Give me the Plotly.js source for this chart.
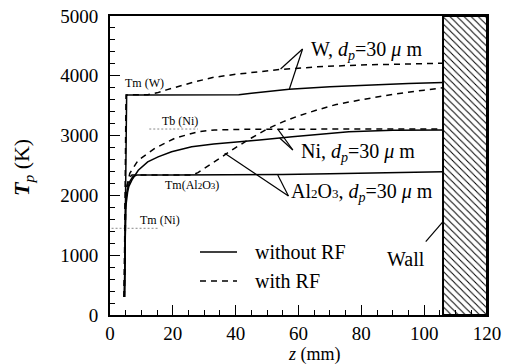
<!DOCTYPE html>
<html><head><meta charset="utf-8">
<script src="https://cdn.plot.ly/plotly-3.0.1.min.js"></script>
<style>html,body{margin:0;padding:0;background:#fff}</style>
</head><body><div id="chart" style="width:506px;height:364px"></div>
<script>
// ---- data (z in mm, Tp in K) ----
const zW_noRF  = [4.6, 4.9, 5.3, 10, 20, 30, 41, 45, 57, 70, 82, 95, 106];
const tW_noRF  = [300, 2000, 3680, 3680, 3680, 3680, 3685, 3710, 3775, 3815, 3846, 3870, 3890];
const zW_RF    = [4.5, 4.8, 5.1, 12, 15, 18, 23, 27, 33, 40, 54, 66, 79, 92, 106];
const tW_RF    = [300, 2000, 3680, 3685, 3715, 3765, 3845, 3900, 3975, 4025, 4105, 4150, 4180, 4198, 4210];
const zNi_noRF = [4.6, 5.0, 5.6, 6.0, 7.0, 8.0, 9.0, 12, 15.3, 19.6, 26, 33, 38, 47.6, 58, 76, 90, 106];
const tNi_noRF = [300, 1800, 2050, 2150, 2260, 2340, 2420, 2560, 2645, 2730, 2815, 2860, 2880, 2925, 2980, 3065, 3088, 3095];
const zNi_RF   = [4.6, 5.0, 5.4, 6.3, 9, 14.3, 20.6, 28, 33.3, 42, 60, 80, 106];
const tNi_RF   = [300, 1900, 2150, 2370, 2590, 2787, 2955, 3065, 3094, 3105, 3108, 3110, 3110];
const zAl_noRF = [4.6, 5.0, 5.5, 6.3, 7.2, 8.5, 20, 40, 55, 70, 85, 106];
const tAl_noRF = [300, 1900, 2100, 2230, 2310, 2340, 2340, 2342, 2350, 2362, 2376, 2395];
const zAl_RF   = [4.5, 4.9, 5.4, 6.2, 7, 15, 26, 28, 30, 35, 40, 45, 50, 55, 60, 66, 72, 80, 90, 100, 106];
const tAl_RF   = [300, 1900, 2150, 2300, 2340, 2340, 2340, 2380, 2450, 2620, 2800, 2960, 3110, 3230, 3330, 3430, 3520, 3600, 3690, 3760, 3800];
// reference temperatures (dotted)
const zTmNi = [0.5, 15.3]; const tTmNi = [1450, 1450];
const zTbNi = [12.5, 28];  const tTbNi = [3110, 3110];
// wall
const wallStart = 106, wallEnd = 120, wallTop = 5000;
// tick labels
const xTicks = [0, 20, 40, 60, 80, 100, 120];
const yTicks = [0, 1000, 2000, 3000, 4000, 5000];

const FONT = 'Times New Roman';
const solid = {color: 'black', width: 1.5};
const dashed = {color: 'black', width: 1.5, dash: '6px,5px'};
const dotted = {color: '#888', width: 1, dash: '2px,2px'};

const traces = [
  {type: 'bar', x: [(wallStart + wallEnd) / 2], y: [wallTop], width: [wallEnd - wallStart],
   marker: {color: 'white', line: {color: 'black', width: 2},
            pattern: {shape: '\\', size: 5, solidity: 0.2, fgcolor: 'black', bgcolor: 'white'}},
   hoverinfo: 'skip'},
  {x: zTmNi, y: tTmNi, mode: 'lines', line: dotted},
  {x: zTbNi, y: tTbNi, mode: 'lines', line: dotted},
  {x: zW_noRF, y: tW_noRF, mode: 'lines', line: solid},
  {x: zW_RF, y: tW_RF, mode: 'lines', line: dashed},
  {x: zNi_noRF, y: tNi_noRF, mode: 'lines', line: solid},
  {x: zNi_RF, y: tNi_RF, mode: 'lines', line: dashed},
  {x: zAl_noRF, y: tAl_noRF, mode: 'lines', line: solid},
  {x: zAl_RF, y: tAl_RF, mode: 'lines', line: dashed}
];
traces.forEach(t => { t.showlegend = false; });

function leader(x0, y0, x1, y1) {
  return {type: 'line', xref: 'x', yref: 'y', x0, y0, x1, y1, line: {color: 'black', width: 1.2}};
}
const shapes = [
  leader(61.3, 4448, 54.3, 4114), leader(61.3, 4448, 57.1, 3779),
  leader(58.2, 2759, 53.4, 3108), leader(58.2, 2759, 54.0, 2960),
  leader(56.8, 1990, 36.5, 2704), leader(56.8, 1990, 53.4, 2341),
  leader(100.5, 1226, 106, 1560),
  // legend keys
  {type: 'line', xref: 'paper', yref: 'paper', x0: (200-110)/377, x1: (237-110)/377, y0: (315-252)/299, y1: (315-252)/299, line: {color: 'black', width: 1.5}},
  {type: 'line', xref: 'paper', yref: 'paper', x0: (200-110)/377, x1: (237-110)/377, y0: (315-281)/299, y1: (315-281)/299, line: {color: 'black', width: 1.5, dash: '6px,5px'}}
];

const big = {family: FONT, size: 20, color: 'black'};
const small = {family: FONT, size: 12, color: 'black'};
function ann(text, x, y, font, xanchor, extra) {
  return Object.assign({text, x, y, xref: 'x', yref: 'y', showarrow: false, font, xanchor: xanchor || 'center', yanchor: 'middle'}, extra || {});
}
const sub = s => '<span style="font-size:13px">' + s + '</span>';
const annotations = [
  ann('Tm (W)', 11.1, 3880, small),
  ann('Tb (Ni)', 22.2, 3250, small),
  ann('Tm(Al' + '<span style="font-size:9px">2</span>' + 'O' + '<span style="font-size:9px">3</span>' + ')', 26, 2174, small),
  ann('Tm (Ni)', 15.9, 1589, small),
  ann('W, <i>d</i><sub><i>p</i></sub>=30 <i>μ</i> m', 63.2, 4465, big, 'left', {yanchor: 'top', yshift: 12}),
  ann('Ni, <i>d</i><sub><i>p</i></sub>=30 <i>μ</i> m', 60.0, 2760, big, 'left', {yanchor: 'top', yshift: 12}),
  ann('Al' + sub('2') + 'O' + sub('3') + ', <i>d</i><sub><i>p</i></sub>=30 <i>μ</i> m', 57.1, 2090, big, 'left', {yanchor: 'top', yshift: 12}),
  ann('Wall', 94.2, 933, big),
  {text: 'without RF', xref: 'paper', yref: 'paper', x: (253-110)/377, y: (315-252)/299, xanchor: 'left', yanchor: 'middle', showarrow: false, font: big},
  {text: 'with RF', xref: 'paper', yref: 'paper', x: (253-110)/377, y: (315-281)/299, xanchor: 'left', yanchor: 'middle', showarrow: false, font: big},
  {text: '<i>z</i> (mm)', xref: 'paper', yref: 'paper', x: (314-110)/377, y: (315-354)/299, xanchor: 'center', yanchor: 'middle', showarrow: false, font: {family: FONT, size: 18, color: 'black'}},
  {text: '<b><i>T</i></b><sub><i>p</i></sub> (K)', xref: 'paper', yref: 'paper', x: (23-110)/377, y: (315-168)/299, xanchor: 'center', yanchor: 'middle', textangle: -90, showarrow: false, font: {family: FONT, size: 22, color: 'black'}}
];

const axisCommon = {
  showline: true, linewidth: 2, linecolor: 'black', mirror: true,
  ticks: 'inside', ticklen: 10, tickwidth: 1, tickcolor: 'black',
  showgrid: false, zeroline: false, tickfont: {family: FONT, size: 19, color: 'black'},
  tickmode: 'array', fixedrange: true
};
const layout = {
  width: 506, height: 364,
  margin: {l: 110, r: 19, t: 16, b: 49, pad: 0},
  paper_bgcolor: 'white', plot_bgcolor: 'white',
  showlegend: false,
  font: {family: FONT, color: 'black'},
  xaxis: Object.assign({}, axisCommon, {range: [0, 120], tickvals: xTicks, ticktext: xTicks.map(String),
    minor: {ticks: 'inside', dtick: 5, tick0: 0, ticklen: 5, tickwidth: 1, tickcolor: 'black', showgrid: false}}),
  yaxis: Object.assign({}, axisCommon, {range: [0, 5000], tickvals: yTicks, ticktext: yTicks.map(String), ticklabelstandoff: 6,
    minor: {ticks: 'inside', dtick: 200, tick0: 0, ticklen: 5, tickwidth: 1, tickcolor: 'black', showgrid: false}}),
  shapes, annotations
};
Plotly.newPlot('chart', traces, layout, {displayModeBar: false, staticPlot: true});
</script></body></html>
